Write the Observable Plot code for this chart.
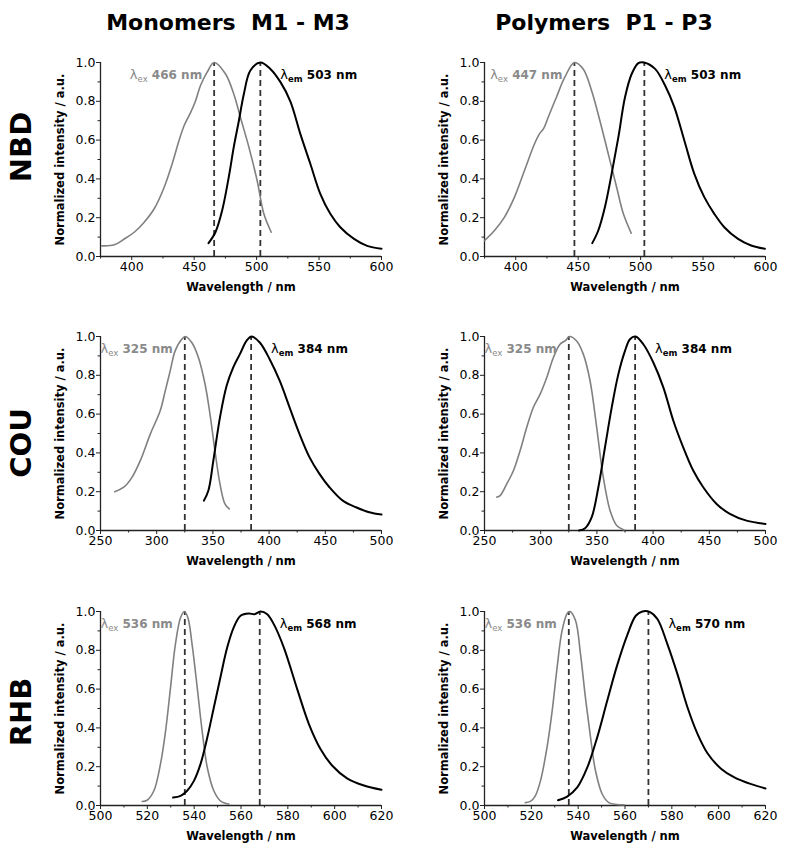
<!DOCTYPE html>
<html><head><meta charset="utf-8">
<script src="https://cdn.jsdelivr.net/npm/d3@7"></script>
<script src="https://cdn.jsdelivr.net/npm/@observablehq/plot@0.6"></script>
<style>
body{margin:0;background:#fff;font-family:"DejaVu Sans",sans-serif;}
#root{position:relative;width:800px;height:858px;overflow:hidden;background:#fff;}
.title{position:absolute;font-weight:bold;font-size:22px;white-space:pre;transform:translate(-50%,-50%);color:#000;}
.row{position:absolute;font-weight:bold;font-size:29px;white-space:pre;transform:translate(-50%,-50%) rotate(-90deg);color:#000;}
.panel{position:absolute;}
</style></head><body><div id="root"></div><script>
// ---- text ----
const columnTitles = ["Monomers  M1 - M3", "Polymers  P1 - P3"];
const rowLabels = ["NBD", "COU", "RHB"];
const xLabel = "Wavelength / nm";
const yLabel = "Normalized intensity / a.u.";
const yTicks = [0, 0.2, 0.4, 0.6, 0.8, 1.0];
const yMinorTicks = [0.1, 0.3, 0.5, 0.7, 0.9];

// ---- per panel (order: NBD mono, NBD poly, COU mono, COU poly, RHB mono, RHB poly) ----
const xDomains = [[375, 600], [375, 600], [250, 500], [250, 500], [500, 620], [500, 620]];
const xTickSteps = [50, 50, 50, 50, 20, 20];
const exPeaks = [466, 447, 325, 325, 536, 536];
const emPeaks = [503, 503, 384, 384, 568, 570];

// ---- spectra [wavelength nm, normalized intensity] ----
const nbdMonoEx = [[376,0.055],[386,0.06],[394,0.09],[402,0.125],[410,0.177],[418,0.246],[426,0.357],[432.4,0.478],[438,0.6],[442,0.675],[447,0.74],[451,0.8],[455,0.88],[460.4,0.95],[466,1.0],[475,0.942],[481.7,0.838],[487,0.718],[493.8,0.564],[500.4,0.392],[505.8,0.22],[511.7,0.125]];
const nbdMonoEm = [[461.5,0.069],[467,0.125],[472.4,0.237],[477.7,0.409],[481.7,0.564],[485.8,0.7],[489.8,0.838],[495,0.959],[503,1.0],[511,0.967],[519,0.9],[527,0.8],[535,0.632],[543,0.478],[551,0.323],[559,0.22],[567,0.151],[578,0.091],[588.5,0.055],[600,0.04]];
const nbdPolyEx = [[375,0.082],[383,0.134],[391,0.203],[399,0.306],[407,0.443],[415,0.58],[419,0.632],[422.4,0.66],[426,0.718],[432.6,0.821],[439.3,0.924],[447,1.0],[454,0.967],[460.7,0.856],[467.4,0.7],[474.1,0.529],[480.8,0.357],[486.2,0.22],[492.5,0.12]];
const nbdPolyEm = [[461.3,0.069],[466.1,0.134],[471.4,0.254],[476.8,0.426],[482.2,0.615],[487.5,0.821],[492.9,0.942],[498.2,0.997],[502.8,1.0],[511.6,0.967],[519.7,0.88],[527,0.77],[535,0.598],[543,0.426],[551,0.306],[559,0.22],[567,0.151],[578,0.091],[588.5,0.057],[599.5,0.04]];
const couMonoEx = [[262.7,0.2],[270.7,0.223],[278,0.274],[285.4,0.36],[294.3,0.497],[303.1,0.617],[307.6,0.72],[312,0.823],[316.4,0.926],[322.3,0.986],[325.5,1.0],[331.2,0.969],[337.1,0.892],[343,0.755],[347.4,0.6],[351.8,0.412],[356.3,0.24],[360.7,0.137],[364.5,0.111]];
const couMonoEm = [[342,0.154],[346,0.206],[350.4,0.36],[356.3,0.583],[362.2,0.746],[368,0.84],[374,0.909],[379.9,0.978],[384.5,1.0],[391.7,0.969],[400.5,0.883],[409.4,0.772],[418.2,0.635],[427.1,0.497],[436,0.377],[444.8,0.292],[453.7,0.223],[465.5,0.154],[477.3,0.12],[489.1,0.094],[500,0.082]];
const couPolyEx = [[261,0.172],[263.9,0.18],[269.8,0.24],[275.8,0.309],[281.7,0.412],[287.6,0.532],[293.5,0.635],[299.5,0.703],[305.4,0.789],[311.3,0.892],[317.2,0.96],[322.3,0.98],[325.5,1.0],[332,0.977],[337.9,0.909],[343.9,0.772],[349.8,0.532],[355.7,0.274],[361.7,0.103],[367.6,0.026],[374.1,0.003]];
const couPolyEm = [[334.1,0.0],[339.5,0.012],[345.4,0.069],[351.3,0.223],[357.2,0.429],[363.2,0.635],[369.1,0.806],[375,0.926],[379.4,0.986],[384.3,1.0],[391.3,0.96],[400.2,0.866],[409.1,0.738],[418,0.566],[426.8,0.429],[435.7,0.309],[444.6,0.223],[456.5,0.137],[468.3,0.086],[483.1,0.051],[500,0.034]];
const rhbMonoEx = [[517.8,0.021],[519.9,0.027],[522.8,0.076],[525.6,0.213],[527.8,0.385],[529.9,0.608],[532,0.832],[534.2,0.969],[535.8,1.0],[537.3,0.969],[539.1,0.832],[541.3,0.608],[543.4,0.385],[545.6,0.196],[548.4,0.076],[551.2,0.024],[554.8,0.007]];
const rhbMonoEm = [[531,0.041],[534.2,0.05],[537,0.076],[539.9,0.127],[542.7,0.213],[545.6,0.35],[548.4,0.505],[551.2,0.66],[554.1,0.814],[556.9,0.918],[559.8,0.978],[563.3,0.99],[565.8,0.986],[568.3,1.0],[571.2,0.986],[574,0.935],[578.3,0.814],[584,0.6],[589,0.42],[594,0.29],[599,0.205],[605.3,0.14],[612.5,0.103],[620,0.081]];
const rhbPolyEx = [[517.4,0.015],[519.6,0.021],[521.7,0.05],[523.9,0.127],[526.7,0.3],[528.9,0.488],[531,0.711],[533.1,0.9],[535.3,0.99],[536.5,1.0],[538.9,0.952],[541,0.78],[543.1,0.557],[545.3,0.35],[547.4,0.179],[550.3,0.058],[553.1,0.015],[559.6,0.003]];
const rhbPolyEm = [[531.4,0.027],[535.3,0.046],[539.6,0.093],[543.9,0.196],[548.1,0.35],[552.4,0.54],[556.7,0.725],[561,0.88],[564.6,0.978],[567.4,1.0],[570.7,0.997],[573.9,0.96],[578.1,0.832],[582.4,0.677],[586.7,0.505],[591,0.368],[595.3,0.268],[601,0.19],[606.7,0.145],[613.9,0.11],[620,0.088]];

const exSpectra = [nbdMonoEx, nbdPolyEx, couMonoEx, couPolyEx, rhbMonoEx, rhbPolyEx];
const emSpectra = [nbdMonoEm, nbdPolyEm, couMonoEm, couPolyEm, rhbMonoEm, rhbPolyEm];

// ---- layout ----
const root = document.getElementById("root");
const colLeft = [0, 384];
const rowTop = [42, 316, 591];
const titleX = [228, 604];
const rowLabelY = [147, 443, 712];

columnTitles.forEach((t, i) => {
  const d = document.createElement("div");
  d.className = "title"; d.textContent = t;
  d.style.left = titleX[i] + "px"; d.style.top = "22px";
  root.appendChild(d);
});
rowLabels.forEach((t, i) => {
  const d = document.createElement("div");
  d.className = "row"; d.textContent = t;
  d.style.left = "21px"; d.style.top = rowLabelY[i] + "px";
  root.appendChild(d);
});

const NS = "http://www.w3.org/2000/svg";
function subscriptify(svg) {
  svg.querySelectorAll("text").forEach(t => {
    const m = /^λ(ex|em) (.+)$/.exec(t.textContent);
    if (!m) return;
    while (t.firstChild) t.removeChild(t.firstChild);
    const a = document.createElementNS(NS, "tspan");
    a.textContent = "λ"; a.setAttribute("font-weight", "normal"); a.setAttribute("font-size", "13");
    const b = document.createElementNS(NS, "tspan");
    b.textContent = m[1]; b.setAttribute("font-size", "8.5"); b.setAttribute("dy", "3");
    if (m[1] === "ex") b.setAttribute("font-weight", "normal");
    const c = document.createElementNS(NS, "tspan");
    c.textContent = " " + m[2]; c.setAttribute("dy", "-3");
    t.appendChild(a); t.appendChild(b); t.appendChild(c);
  });
}

function panel(i) {
  const [x0, x1] = xDomains[i];
  const step = xTickSteps[i];
  const all = d3.range(x0, x1 + 1e-6, step / 2);
  const major = all.filter(v => Math.abs(v % step) < 1e-6);
  const minor = all.filter(v => Math.abs(v % step) >= 1e-6);
  const exLabel = [{x: exPeaks[i], t: `λex ${exPeaks[i]} nm`}];
  const emLabel = [{x: emPeaks[i], t: `λem ${emPeaks[i]} nm`}];
  return Plot.plot({
    width: 400, height: 259,
    marginLeft: 100, marginRight: 19, marginTop: 20, marginBottom: 45,
    style: {fontFamily: "DejaVu Sans", fontSize: "12.5px", color: "#000", background: "transparent", overflow: "visible"},
    x: {domain: [x0, x1]},
    y: {domain: [0, 1]},
    marks: [
      Plot.axisX({ticks: minor, tickSize: 2.5, tickFormat: () => "", label: null, stroke: "#222"}),
      Plot.axisX({ticks: major, tickSize: 4, tickPadding: 2, tickFormat: d => String(d), label: null, stroke: "#222"}),
      Plot.axisY({ticks: yMinorTicks, tickSize: 2.5, tickFormat: () => "", label: null, stroke: "#222"}),
      Plot.axisY({ticks: yTicks, tickSize: 4, tickPadding: 1, tickFormat: d => d.toFixed(1), label: null, stroke: "#222"}),
      Plot.ruleY([0], {stroke: "#222", strokeWidth: 1.3}),
      Plot.ruleX([x0], {y1: 0, y2: 1, stroke: "#222", strokeWidth: 1.3}),
      Plot.text([xLabel], {frameAnchor: "bottom", textAnchor: "middle", dy: 31, lineAnchor: "middle", fontWeight: "bold", fontSize: 11.5}),
      Plot.text([yLabel], {frameAnchor: "left", textAnchor: "middle", dx: -40, rotate: -90, lineAnchor: "middle", fontWeight: "bold", fontSize: 11.5}),
      Plot.ruleX([exPeaks[i], emPeaks[i]], {y1: 0, y2: 1, stroke: "#333", strokeWidth: 1.8, strokeDasharray: "6,4"}),
      Plot.line(exSpectra[i], {x: d => d[0], y: d => d[1], stroke: "#808080", strokeWidth: 1.6, curve: "catmull-rom"}),
      Plot.line(emSpectra[i], {x: d => d[0], y: d => d[1], stroke: "#000", strokeWidth: 2, curve: "catmull-rom"}),
      Plot.text(exLabel, {x: "x", y: () => 1, text: "t", textAnchor: "end", dx: -12, dy: 13, lineAnchor: "middle", fill: "#8a8a8a", fontWeight: "bold", fontSize: 12}),
      Plot.text(emLabel, {x: "x", y: () => 1, text: "t", textAnchor: "start", dx: 20, dy: 13, lineAnchor: "middle", fill: "#000", fontWeight: "bold", fontSize: 12})
    ]
  });
}

for (let i = 0; i < 6; i++) {
  const svg = panel(i);
  subscriptify(svg);
  const wrap = document.createElement("div");
  wrap.className = "panel";
  wrap.style.left = colLeft[i % 2] + "px";
  wrap.style.top = rowTop[Math.floor(i / 2)] + "px";
  wrap.appendChild(svg);
  root.appendChild(wrap);
}
</script></body></html>
